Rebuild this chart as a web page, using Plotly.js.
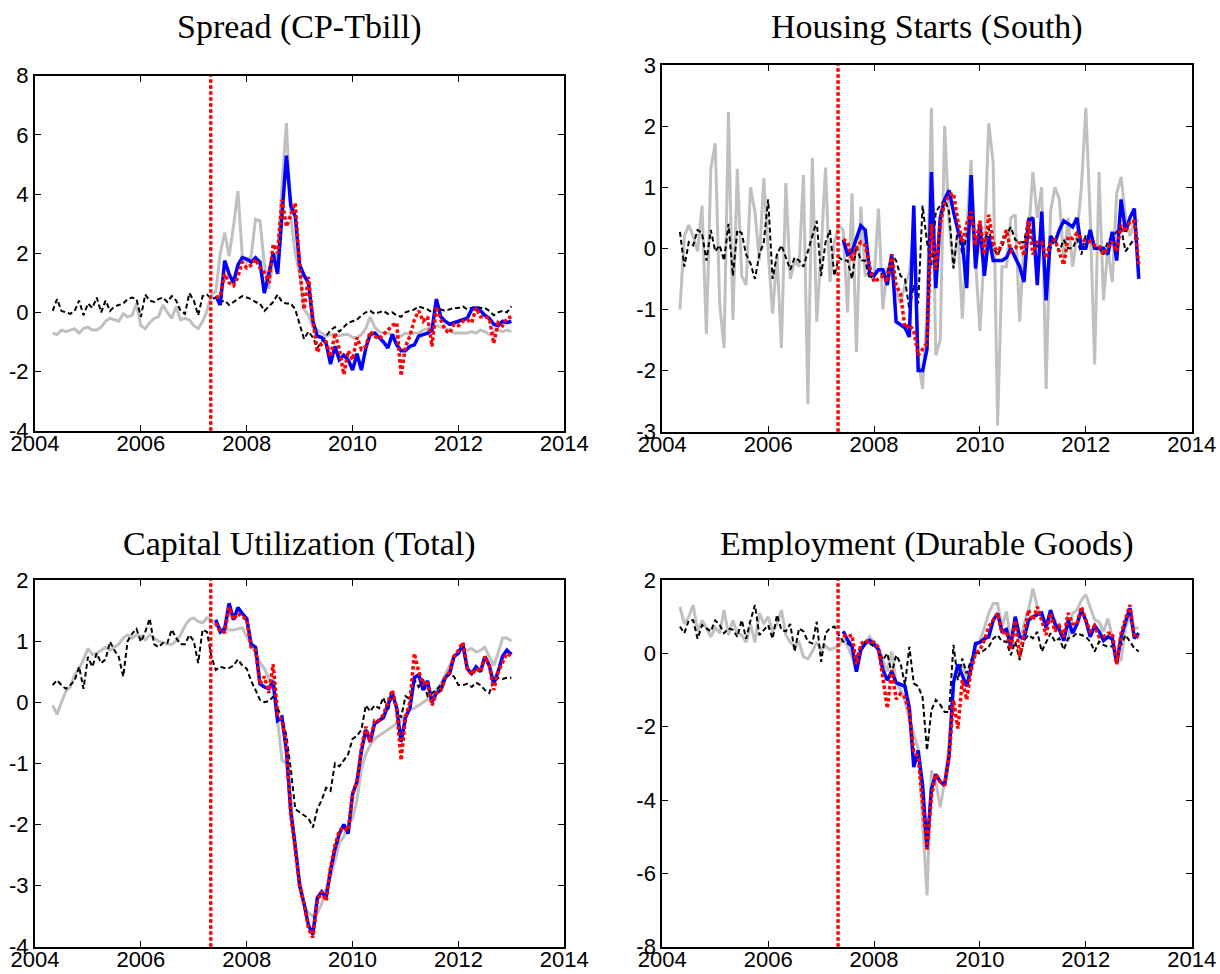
<!DOCTYPE html>
<html><head><meta charset="utf-8">
<script src="https://cdn.plot.ly/plotly-3.0.1.min.js"></script>
<style>html,body{margin:0;padding:0;background:#fff}#chart{width:1220px;height:974px}</style>
</head><body><div id="chart"></div>
<script>
// ---------- data ----------
const startYear = 2004;
const startMonth = 4;          // months after Jan: first obs = May 2004
const nObs = 105;              // May 2004 .. Jan 2013
const forecastStart = 37;      // June 2007 (index of first forecast obs)
const breakDate = 2007.32;     // vertical red dotted line

const panelTitles = ['Spread (CP-Tbill)', 'Housing Starts (South)', 'Capital Utilization (Total)', 'Employment (Durable Goods)'];

const xTickVals = [2004, 2006, 2008, 2010, 2012, 2014];
const xTickText = ['2004', '2006', '2008', '2010', '2012', '2014'];
const spreadTickVals = [-4, -2, 0, 2, 4, 6, 8];
const spreadTickText = ['-4', '-2', '0', '2', '4', '6', '8'];
const housingTickVals = [-3, -2, -1, 0, 1, 2, 3];
const housingTickText = ['-3', '-2', '-1', '0', '1', '2', '3'];
const capUtilTickVals = [-4, -3, -2, -1, 0, 1, 2];
const capUtilTickText = ['-4', '-3', '-2', '-1', '0', '1', '2'];
const employTickVals = [-8, -6, -4, -2, 0, 2];
const employTickText = ['-8', '-6', '-4', '-2', '0', '2'];

// Spread (CP-Tbill)
const spreadActual = [
 -0.7,-0.75,-0.6,-0.65,-0.6,-0.55,-0.7,-0.55,-0.5,-0.6,
 -0.6,-0.5,-0.3,-0.2,-0.25,-0.3,-0.05,-0.15,-0.1,0.3,
 -0.45,-0.55,-0.35,-0.2,-0.15,0.25,0.0,-0.2,0.2,-0.25,
 -0.2,-0.25,-0.45,-0.55,-0.3,0.05,0.6,0.7,2.0,2.7,
 1.9,2.9,4.1,1.9,1.7,1.9,3.15,3.1,1.6,0.8,
 1.7,2.0,4.3,6.4,3.2,2.0,1.3,0.1,-0.1,-0.5,
 -0.6,-0.7,-0.8,-0.75,-0.75,-0.8,-0.75,-0.75,-0.85,-0.85,
 -0.75,-0.55,-0.15,-0.5,-0.65,-0.7,-0.7,-0.75,-0.8,-0.8,
 -0.7,-0.75,-0.7,-0.7,-0.6,-0.55,-0.5,-0.45,-0.5,-0.55,
 -0.6,-0.7,-0.7,-0.7,-0.7,-0.65,-0.7,-0.6,-0.65,-0.75,
 -0.65,-0.6,-0.65,-0.6,-0.65];
const spreadBlack = [
 0.05,0.45,0.05,0.0,-0.05,0.05,0.4,-0.1,0.3,0.15,
 0.5,0.0,0.4,0.05,0.2,0.25,0.3,0.45,0.5,0.45,
 -0.15,0.6,0.4,0.35,0.45,0.5,0.35,0.55,0.4,0.05,
 -0.05,0.65,0.4,-0.1,0.55,0.6,0.45,0.5,0.35,0.4,
 0.25,0.35,0.45,0.55,0.5,0.45,0.35,0.3,0.05,0.2,
 0.35,0.6,0.35,0.3,0.3,0.1,-0.4,-0.9,-0.65,-0.85,
 -1.2,-1.0,-0.8,-0.6,-0.5,-0.65,-0.5,-0.35,-0.3,-0.25,
 -0.1,0.0,0.05,-0.05,0.0,0.05,-0.05,0.0,-0.1,-0.15,
 0.0,0.05,0.1,0.2,0.15,0.1,0.0,0.15,0.1,0.05,
 0.1,0.15,0.15,0.2,0.1,0.15,0.2,0.15,0.15,0.05,
 -0.1,0.0,0.05,0.0,0.2];
const spreadBlue = [
 0.55,0.25,1.75,1.3,1.0,1.6,1.85,1.8,1.7,1.85,
 1.7,0.65,1.3,2.0,1.3,3.3,5.3,3.6,3.25,1.6,
 1.25,1.0,-0.3,-0.8,-0.85,-1.05,-1.75,-1.15,-1.6,-1.45,
 -1.6,-1.95,-1.4,-1.95,-1.2,-0.75,-0.7,-0.85,-1.0,-1.2,
 -0.75,-1.1,-1.3,-1.3,-1.15,-1.1,-0.8,-0.75,-0.7,-0.6,
 0.45,-0.15,-0.3,-0.4,-0.35,-0.3,-0.25,-0.2,0.1,0.15,
 0.05,-0.1,-0.2,-0.4,-0.45,-0.3,-0.35,-0.3];
const spreadRed = [
 0.5,0.55,1.3,1.0,0.9,1.2,1.7,1.5,1.6,1.8,
 1.5,1.35,1.0,2.3,2.0,3.8,2.9,3.3,3.7,1.5,
 0.1,1.2,-0.25,-1.35,-1.05,-1.0,-1.5,-0.7,-1.25,-2.1,
 -1.3,-1.6,-0.85,-1.25,-1.15,-0.65,-0.8,-0.9,-0.75,-0.6,
 -0.45,-0.35,-2.15,-1.15,-0.8,-0.25,0.05,-0.3,-0.15,-1.15,
 0.2,-0.25,-0.6,-0.7,-0.4,-0.45,-0.3,-0.25,-0.35,0.15,
 -0.15,-0.15,-0.2,-1.05,-0.35,-0.45,-0.2,-0.15];

// Housing Starts (South)
const housingActual = [
 -1.0,0.2,0.38,0.2,-0.05,0.7,-1.4,1.3,1.72,-0.9,
 -1.63,2.23,-1.17,1.3,-0.45,-0.6,1.0,0.6,-0.2,1.15,
 -0.05,-1.07,-0.1,-1.63,1.07,-0.5,-0.2,-0.3,1.2,-2.55,
 1.48,-1.2,-0.05,1.32,-0.55,0.1,0.38,0.3,-1.05,0.9,
 -1.7,0.68,-0.45,-0.4,-0.5,0.65,-1.0,-0.3,-0.4,-0.7,
 -0.9,-0.6,-0.4,0.3,-1.8,-2.3,-1.0,2.3,-1.75,-1.5,
 2.0,0.4,-0.3,0.3,-1.15,0.3,1.45,-0.2,-1.35,0.0,
 2.05,1.4,-2.9,-0.3,-0.3,0.5,0.55,-1.2,0.1,0.2,
 1.25,0.5,1.0,-2.3,0.6,1.0,0.8,-0.2,0.5,-0.3,
 0.2,1.0,2.3,0.5,-1.9,1.25,-0.85,0.0,-0.55,0.9,
 1.17,0.5,0.2,0.45,0.45];
const housingBlack = [
 0.27,-0.3,0.1,0.05,0.3,0.25,-0.2,0.3,-0.05,0.05,
 -0.2,0.4,-0.45,0.3,0.25,-0.1,-0.25,-0.5,-0.1,0.1,
 0.8,-0.5,-0.1,0.05,-0.15,-0.35,-0.15,-0.2,-0.3,-0.05,
 0.2,0.45,-0.45,0.1,0.3,-0.45,-0.15,-0.2,-0.2,-0.5,
 0.05,-0.2,-0.2,-0.5,-0.4,-0.35,-0.45,-0.4,-0.1,-0.2,
 -0.45,-0.5,-1.0,-0.6,-0.9,0.7,0.1,-0.27,0.6,0.7,
 0.8,0.6,-0.33,0.33,-0.1,0.2,0.5,0.1,0.27,0.1,
 0.33,0.0,-0.1,0.03,0.22,0.35,0.14,0.1,0.1,0.5,
 0.1,0.03,0.08,0.03,0.0,0.16,-0.05,0.14,0.0,0.0,
 0.16,-0.1,0.22,0.11,0.03,0.0,-0.1,0.11,0.2,0.27,
 0.33,-0.05,0.05,0.16,0.16];
const housingBlue = [
 0.14,-0.1,-0.05,0.15,0.37,0.3,-0.4,-0.45,-0.35,-0.35,
 -0.6,-0.1,-1.2,-1.25,-1.3,-1.45,0.7,-2.0,-2.0,-1.65,
 1.25,-0.65,0.5,0.8,0.95,0.6,0.3,0.1,-0.65,1.2,
 -0.33,0.4,-0.45,0.2,-0.2,-0.2,-0.2,-0.15,0.0,-0.15,
 -0.3,-0.55,0.45,0.5,-0.6,0.6,-0.85,0.2,0.1,0.3,
 0.45,0.4,0.35,0.5,0.0,0.0,0.3,0.0,0.0,0.0,
 -0.1,0.27,-0.2,0.8,0.27,0.5,0.65,-0.5];
const housingRed = [
 0.15,0.1,-0.2,0.0,0.1,0.05,-0.3,-0.55,-0.5,-0.45,
 -0.55,-0.1,-0.6,-0.75,-1.3,-1.25,-1.35,-1.75,-1.65,-1.55,
 0.4,-0.35,0.4,0.75,0.87,0.9,0.45,0.1,0.4,0.6,
 0.05,0.45,-0.1,0.55,0.1,-0.1,0.1,0.3,-0.05,0.0,
 0.1,-0.12,0.45,-0.1,0.1,0.1,-0.16,0.1,0.14,-0.05,
 -0.27,0.19,0.16,0.25,0.16,0.11,0.11,0.05,0.03,-0.1,
 0.0,0.11,-0.05,0.38,0.27,0.44,0.44,-0.27];

// Capital Utilization (Total)
const capUtilActual = [
 -0.05,-0.2,0.0,0.18,0.25,0.45,0.55,0.7,0.88,0.78,
 0.8,0.85,0.9,0.85,0.9,0.95,1.05,1.1,1.05,1.1,
 1.08,1.02,1.1,1.05,1.0,0.98,0.95,0.95,1.0,1.1,
 1.25,1.35,1.38,1.32,1.3,1.38,1.35,1.25,1.22,1.2,
 1.18,1.18,1.2,1.22,1.07,0.95,0.8,0.65,0.55,0.4,
 0.2,-0.3,-0.95,-1.0,-1.6,-2.4,-2.9,-3.3,-3.45,-3.5,
 -3.45,-3.3,-3.05,-2.85,-2.6,-2.3,-2.2,-2.0,-1.9,-1.6,
 -1.1,-0.85,-0.7,-0.6,-0.55,-0.5,-0.45,-0.4,-0.35,-0.3,
 -0.2,-0.12,-0.1,-0.05,0.0,0.05,0.1,0.2,0.3,0.45,
 0.6,0.75,0.85,0.88,0.85,0.88,0.82,0.85,0.9,0.75,
 0.6,0.8,1.05,1.05,1.0];
const capUtilBlack = [
 0.28,0.36,0.28,0.22,0.28,0.36,0.58,0.22,0.74,0.58,
 0.8,0.64,0.7,0.99,0.85,0.74,0.42,1.0,1.12,1.2,
 0.99,1.15,1.37,0.95,0.9,0.97,0.97,1.19,1.05,0.95,
 0.95,1.1,1.0,0.64,1.19,1.15,0.74,0.53,0.58,0.56,
 0.56,0.6,0.7,0.6,0.55,0.35,0.2,0.04,0.0,0.02,
 0.09,-0.1,-0.25,-0.55,-1.1,-1.75,-1.8,-1.85,-1.9,-2.05,
 -1.75,-1.6,-1.4,-1.45,-1.0,-1.05,-0.95,-0.85,-0.6,-0.55,
 -0.45,-0.05,-0.15,-0.05,-0.1,0.08,-0.15,0.15,-0.1,-0.25,
 0.1,0.05,0.37,0.25,0.37,0.1,0.15,0.2,0.28,0.42,
 0.47,0.42,0.28,0.28,0.3,0.25,0.32,0.28,0.2,0.15,
 0.37,0.4,0.38,0.4,0.4];
const capUtilBlue = [
 1.35,1.15,1.2,1.62,1.35,1.55,1.45,1.37,0.95,0.9,
 0.3,0.25,0.22,0.35,-0.3,-0.25,-0.8,-1.8,-2.35,-3.0,
 -3.3,-3.65,-3.8,-3.2,-3.1,-3.2,-2.75,-2.4,-2.15,-2.0,
 -2.15,-1.5,-1.3,-0.8,-0.45,-0.65,-0.35,-0.3,-0.25,-0.05,
 0.15,-0.1,-0.65,-0.25,-0.1,0.4,0.45,0.2,0.35,0.0,
 0.15,0.2,0.4,0.47,0.75,0.8,0.95,0.55,0.47,0.58,
 0.5,0.75,0.6,0.3,0.5,0.75,0.85,0.78];
const capUtilRed = [
 1.3,1.15,1.15,1.55,1.35,1.45,1.4,1.35,0.9,0.85,
 0.3,0.42,0.15,0.62,-0.2,-0.3,-0.7,-1.85,-2.4,-3.0,
 -3.3,-3.7,-3.85,-3.25,-3.1,-3.25,-2.7,-2.35,-2.1,-2.05,
 -2.1,-1.5,-1.3,-0.75,-0.4,-0.65,-0.3,-0.3,-0.2,0.0,
 0.2,-0.1,-0.95,-0.25,0.0,0.8,0.5,0.3,0.35,-0.05,
 0.15,0.2,0.4,0.5,0.75,0.85,0.98,0.55,0.45,0.55,
 0.5,0.75,0.6,0.2,0.5,0.65,0.8,0.75];

// Employment (Durable Goods)
const employActual = [
 1.27,0.8,1.0,1.32,0.6,0.9,0.7,0.45,0.7,0.55,
 1.18,0.5,0.9,0.55,0.5,0.3,0.8,0.3,1.1,0.8,
 1.0,0.6,0.8,1.18,0.5,0.3,0.2,0.3,-0.1,-0.15,
 0.05,0.3,0.1,0.2,0.1,0.15,0.2,0.4,0.2,-0.1,
 -0.5,0.1,0.3,0.45,0.3,0.2,-0.2,-0.5,0.05,-0.8,
 -1.0,-1.3,-1.8,-2.2,-2.6,-4.6,-6.6,-3.2,-3.5,-4.2,
 -3.5,-2.5,-0.8,-0.45,-0.3,-0.64,-0.27,0.18,0.36,0.7,
 1.09,1.36,1.36,0.73,1.14,0.36,0.9,0.27,0.8,1.18,
 1.77,1.27,1.0,0.82,0.91,0.91,0.64,0.4,0.36,1.09,
 1.18,1.45,1.6,1.27,0.91,0.86,0.59,0.95,0.45,-0.23,
 -0.18,0.73,0.95,0.68,0.7];
const employBlack = [
 0.73,0.55,0.9,0.9,0.4,0.77,0.68,0.6,0.9,0.77,
 0.55,0.68,0.64,0.45,0.91,0.4,0.9,1.32,0.5,0.64,
 0.77,0.4,1.05,0.64,0.6,0.8,0.05,0.68,0.6,0.32,
 0.27,0.86,-0.23,0.55,0.68,0.73,0.5,0.32,0.27,0.18,
 -0.1,0.18,0.32,0.27,0.18,0.1,-0.18,0.0,-0.55,-0.05,
 -0.27,-0.86,0.18,-0.82,-0.9,-1.2,-2.65,-1.55,-1.27,-1.4,
 -1.6,-1.6,0.23,-0.73,-0.14,-0.55,-0.18,0.0,0.0,0.1,
 0.18,0.4,0.5,0.32,0.32,-0.05,0.32,-0.18,0.36,0.5,
 0.41,0.59,0.05,0.3,0.55,0.32,0.41,0.1,0.41,0.45,
 0.55,0.5,0.45,0.32,0.05,0.32,0.23,0.18,0.18,0.2,
 0.23,0.5,0.32,0.14,0.05];
const employBlue = [
 0.6,0.36,0.2,-0.5,0.1,0.27,0.35,0.25,0.1,-0.45,
 -0.73,-0.5,-0.8,-0.85,-0.9,-1.5,-3.1,-2.65,-3.6,-5.3,
 -3.7,-3.3,-3.5,-3.6,-2.8,-0.8,-0.3,-0.6,-0.9,-0.4,
 0.27,0.3,0.4,0.45,0.9,1.09,0.6,0.65,0.2,1.0,
 0.45,0.4,0.9,1.0,1.05,1.1,0.7,1.18,0.8,0.65,
 0.35,0.9,0.55,0.8,1.18,0.9,0.45,0.75,0.6,0.35,
 0.45,0.4,-0.27,0.45,0.86,1.23,0.41,0.55];
const employRed = [
 0.5,0.45,0.5,-0.3,0.25,0.35,0.3,0.3,0.15,-0.6,
 -1.5,-0.45,-1.25,-1.1,-1.2,-1.6,-2.7,-2.8,-4.0,-5.35,
 -3.9,-3.3,-3.5,-3.6,-2.8,-1.27,-2.05,-0.73,-1.27,-0.45,
 0.0,0.09,0.36,0.73,0.9,1.09,0.55,0.6,0.1,0.9,
 -0.1,0.5,1.18,0.9,1.27,0.9,0.5,1.1,0.6,0.75,
 0.45,1.1,0.8,0.8,1.27,0.9,0.6,0.75,0.45,0.45,
 0.55,0.55,-0.3,0.55,0.9,1.32,0.45,0.45];

// ---------- build ----------
const dates = [];
for (let i = 0; i < nObs; i++) dates.push(startYear + (startMonth + i) / 12);
const fcDates = dates.slice(forecastStart);

const panels = [
  {a: spreadActual, k: spreadBlack, b: spreadBlue, r: spreadRed, tv: spreadTickVals, tt: spreadTickText, range: [-4, 8]},
  {a: housingActual, k: housingBlack, b: housingBlue, r: housingRed, tv: housingTickVals, tt: housingTickText, range: [-3, 3]},
  {a: capUtilActual, k: capUtilBlack, b: capUtilBlue, r: capUtilRed, tv: capUtilTickVals, tt: capUtilTickText, range: [-4, 2]},
  {a: employActual, k: employBlack, b: employBlue, r: employRed, tv: employTickVals, tt: employTickText, range: [-8, 2]}
];

const W = 1220, H = 974;
const boxes = [ // pixel boxes [left, right, top, bottom]
  [35, 564.3, 75.7, 430.7],
  [662.3, 1191.7, 65, 431.7],
  [35, 564.3, 580, 946.7],
  [662.3, 1191.7, 580, 946.7]
];
const titleY = [27, 27, 544, 544];

const traces = [];
const layout = {
  width: W, height: H, margin: {l: 0, r: 0, t: 0, b: 0},
  paper_bgcolor: '#fff', plot_bgcolor: '#fff', showlegend: false,
  shapes: [], annotations: []
};
const tickFont = {family: 'Liberation Sans, Arial, sans-serif', size: 22, color: '#000'};

panels.forEach((p, idx) => {
  const n = idx === 0 ? '' : String(idx + 1);
  const xa = 'x' + n, ya = 'y' + n;
  const [l, r, t, b] = boxes[idx];
  layout['xaxis' + n] = {
    domain: [l / W, r / W], range: [2004, 2014], anchor: ya,
    tickmode: 'array', tickvals: xTickVals, ticktext: xTickText,
    ticks: 'inside', ticklen: 6, tickwidth: 1, tickcolor: '#000',
    showline: true, linecolor: '#000', linewidth: 2, mirror: 'ticks',
    showgrid: false, zeroline: false, tickfont: tickFont, fixedrange: true,
    ticklabelstandoff: -8
  };
  layout['yaxis' + n] = {
    domain: [1 - b / H, 1 - t / H], range: p.range, anchor: xa,
    tickmode: 'array', tickvals: p.tv, ticktext: p.tt,
    ticks: 'inside', ticklen: 6, tickwidth: 1, tickcolor: '#000',
    showline: true, linecolor: '#000', linewidth: 2, mirror: 'ticks',
    showgrid: false, zeroline: false, tickfont: tickFont, fixedrange: true
  };
  traces.push({x: dates, y: p.a, xaxis: xa, yaxis: ya, mode: 'lines', line: {color: '#c0c0c0', width: 3}, hoverinfo: 'skip'});
  traces.push({x: dates, y: p.k, xaxis: xa, yaxis: ya, mode: 'lines', line: {color: '#000', width: 2, dash: '5px,3px'}, hoverinfo: 'skip'});
  traces.push({x: fcDates, y: p.b, xaxis: xa, yaxis: ya, mode: 'lines', line: {color: '#0000ff', width: 3.5}, hoverinfo: 'skip'});
  traces.push({x: fcDates, y: p.r, xaxis: xa, yaxis: ya, mode: 'lines', line: {color: '#ff0000', width: 3.5, dash: '3.5px,2.5px'}, hoverinfo: 'skip'});
  layout.shapes.push({type: 'line', xref: xa, yref: ya + ' domain', x0: breakDate, x1: breakDate, y0: 0, y1: 1,
    line: {color: '#ff0000', width: 3.5, dash: '3.5px,2.5px'}});
  layout.annotations.push({text: panelTitles[idx], xref: 'paper', yref: 'paper',
    x: ((l + r) / 2) / W, y: 1 - titleY[idx] / H, xanchor: 'center', yanchor: 'middle', showarrow: false,
    font: {family: 'Liberation Serif, Times New Roman, serif', size: 34, color: '#000'}});
});

Plotly.newPlot('chart', traces, layout, {staticPlot: true, displayModeBar: false});
</script>
</body></html>
